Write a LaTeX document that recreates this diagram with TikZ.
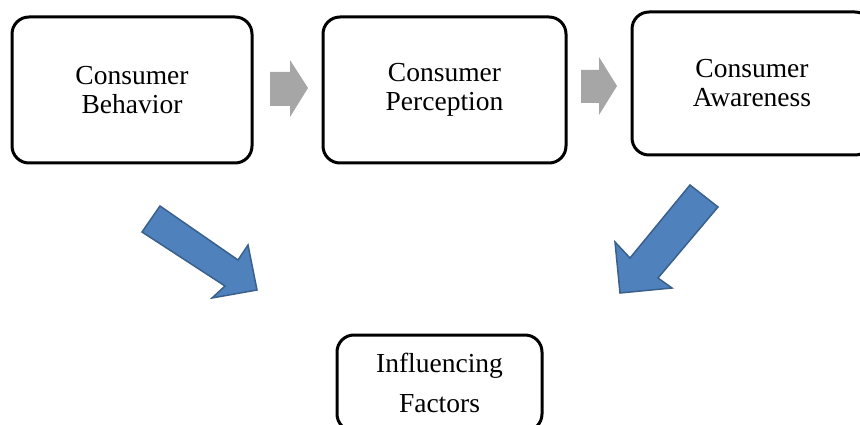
\documentclass[tikz,border=0pt]{standalone}
\usepackage{fontspec}
\setmainfont{Liberation Serif}
\begin{document}
\begin{tikzpicture}[x=1pt,y=-1pt,
  box/.style={draw=black,line width=3pt,rounded corners=17pt,fill=white,align=center,
    font=\fontsize{27.5}{29}\selectfont,inner sep=0pt},
  grayarrow/.style={fill=black!35,draw=none},
  bluearrow/.style={fill={rgb,255:red,79;green,129;blue,189},draw={rgb,255:red,58;green,96;blue,140},line width=1.5pt,line join=miter}]
\useasboundingbox (0,0) rectangle (860,425);
\clip (0,0) rectangle (860,425);
\node[box,minimum width=240pt,minimum height=146pt] (behavior) at (132,90) {Consumer\\Behavior};
\node[box,minimum width=243pt,minimum height=146pt] (perception) at (444.5,90) {Consumer\\Perception};
\node[box,minimum width=240pt,minimum height=143pt] (awareness) at (752,83.5) {Consumer\\Awareness};
\node[box,minimum width=205pt,minimum height=96pt,font=\fontsize{27.5}{40}\selectfont] (factors) at (439.5,383) {Influencing\\Factors};
% gray arrows
\fill[grayarrow] (270,72) -- (290,72) -- (290,60) -- (308,88) -- (290,117) -- (290,106) -- (270,106) -- cycle;
\fill[grayarrow] (581,70) -- (599,70) -- (599,57) -- (617,86) -- (599,115) -- (599,103) -- (581,103) -- cycle;
% blue arrows
\draw[bluearrow] (142,232) -- (160,206) -- (238,260) -- (248,245) -- (257,290) -- (212,298) -- (225,286) -- cycle;
\draw[bluearrow] (690,185) -- (718,207) -- (658,278) -- (672,288) -- (620,293) -- (615,242) -- (630,258) -- cycle;
\end{tikzpicture}
\end{document}
